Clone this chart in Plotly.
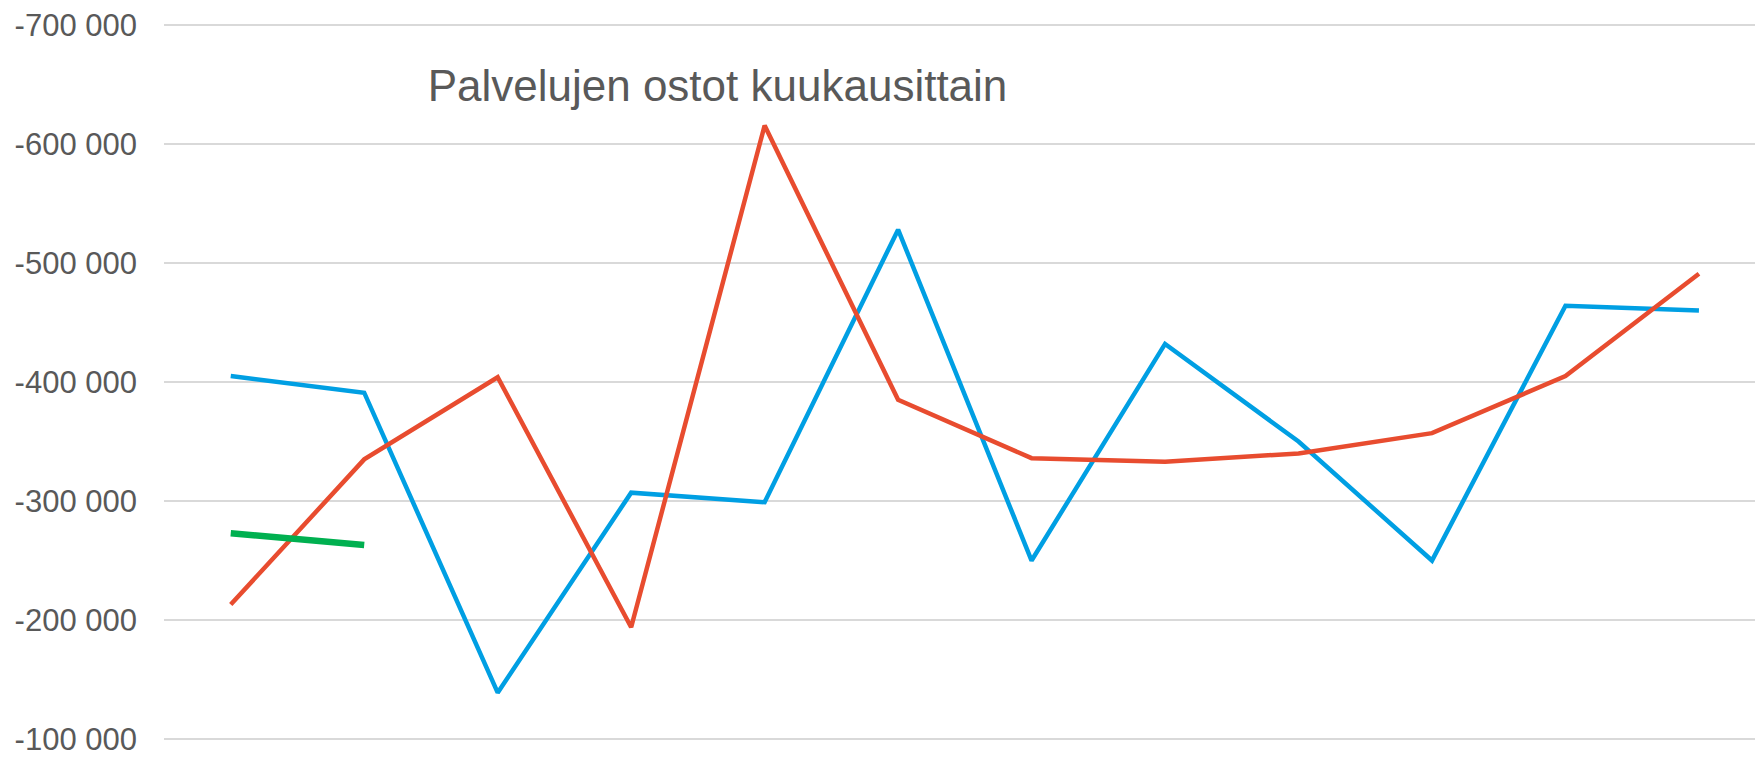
import plotly.graph_objects as go

months = list(range(12))
blue_vals = [-405000, -391000, -139000, -307000, -299000, -528000,
             -250000, -432000, -350000, -250000, -464000, -460000]
red_vals = [-213000, -335000, -404000, -194000, -615500, -385000,
            -336000, -333000, -340000, -357000, -405000, -491000]
green_vals = [-273000, -263000]
tick_vals = [-700000, -600000, -500000, -400000, -300000, -200000, -100000]
tick_text = ["-700 000", "-600 000", "-500 000", "-400 000", "-300 000", "-200 000", "-100 000"]
title_text = "Palvelujen ostot kuukausittain"

fig = go.Figure()
fig.add_trace(go.Scatter(x=months, y=blue_vals, mode="lines",
                         line=dict(color="#009FE3", width=4.5), showlegend=False))
fig.add_trace(go.Scatter(x=months, y=red_vals, mode="lines",
                         line=dict(color="#E84C2F", width=4.5), showlegend=False))
fig.add_trace(go.Scatter(x=months[:2], y=green_vals, mode="lines",
                         line=dict(color="#00B050", width=6.5), showlegend=False))

fig.update_layout(
    width=1755, height=758,
    margin=dict(l=164, r=0, t=13, b=7),
    paper_bgcolor="white", plot_bgcolor="white",
    font=dict(family="Liberation Sans, Arial, sans-serif", color="#595959"),
    title=dict(text=title_text, x=717.5 / 1755, xanchor="center",
               y=1 - 86 / 758, yanchor="middle", yref="container",
               font=dict(size=44, color="#595959")),
    xaxis=dict(range=[-0.5, 11.42], showticklabels=False, showgrid=False,
               zeroline=False, showline=False),
    yaxis=dict(range=[-90000, -710000], tickvals=tick_vals, ticktext=tick_text,
               showgrid=True, gridcolor="#D9D9D9", gridwidth=2, zeroline=False,
               showline=False, tickfont=dict(size=31, color="#595959"),
               ticklabelstandoff=26),
)

fig.write_html("out.html", config={"displayModeBar": False},
               post_script="document.body.style.margin='0px';document.body.style.overflow='hidden';")
